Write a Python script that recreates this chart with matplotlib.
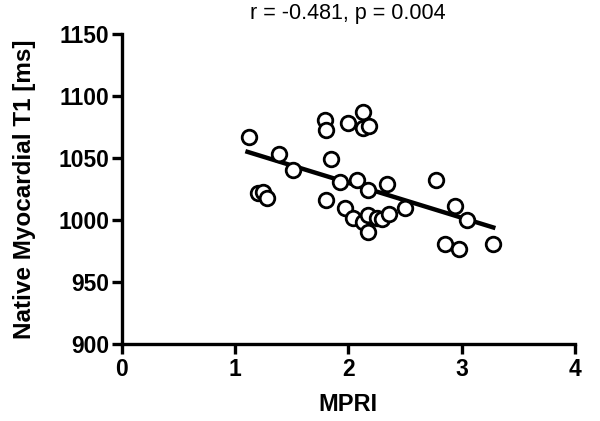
import numpy as np
import matplotlib
matplotlib.use("Agg")
import matplotlib.pyplot as plt

plt.rcParams['font.family'] = ['Liberation Sans', 'DejaVu Sans']

# MPRI vs native T1
mpri = [1.12, 1.20, 1.245, 1.28, 1.39, 1.51, 1.79, 1.80, 1.80, 1.85,
        1.93, 1.97, 2.00, 2.04, 2.08, 2.13, 2.13, 2.13, 2.17, 2.17,
        2.17, 2.18, 2.25, 2.30, 2.34, 2.36, 2.50, 2.77, 2.85, 2.94,
        2.98, 3.05, 3.28]
t1 = [1067, 1022, 1023, 1018, 1053, 1040, 1081, 1073, 1016, 1049,
      1031, 1010, 1078, 1002, 1032, 1087, 1074, 998, 1024, 1004,
      990, 1076, 1002, 1001, 1029, 1005, 1010, 1032, 981, 1011,
      977, 1000, 981]

# regression line end points
fit_x = [1.11, 3.28]
fit_y = [1055, 994]

fig = plt.figure(figsize=(6, 4.21), dpi=100)
ax = fig.add_axes([0.203, 0.183, 0.755, 0.736])

ax.plot(mpri, t1, 'o', mfc='white', mec='black', mew=2, ms=10.5, zorder=3)
ax.plot(fit_x, fit_y, color='black', lw=3.2, zorder=2)

ax.set_xlim(0, 4)
ax.set_ylim(900, 1150)
ax.set_xticks([0, 1, 2, 3, 4])
ax.set_yticks([900, 950, 1000, 1050, 1100, 1150])

for s in ['top', 'right']:
    ax.spines[s].set_visible(False)
for s in ['left', 'bottom']:
    ax.spines[s].set_linewidth(2.4)
ax.tick_params(width=2.4, length=7, labelsize=16.5, pad=2)
ax.tick_params(axis='x', pad=3)
for lab in ax.get_xticklabels() + ax.get_yticklabels():
    lab.set_fontweight('bold')

ax.set_xlabel('MPRI', fontsize=17, fontweight='bold', labelpad=9)
ax.set_ylabel('Native Myocardial T1 [ms]', fontsize=17.5, fontweight='bold', labelpad=16)
ax.set_title('r = -0.481, p = 0.004', fontsize=15.5, pad=11)

fig.savefig('out.png', dpi=100)
